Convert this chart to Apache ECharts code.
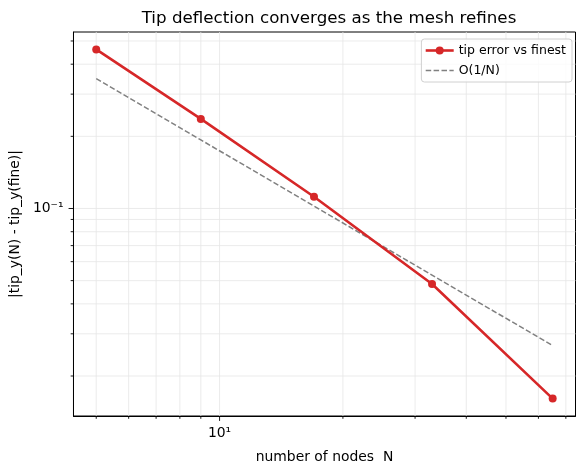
<!DOCTYPE html>
<html>
<head>
    <meta charset="utf-8">
    <script src="https://cdn.jsdelivr.net/npm/echarts@6/dist/echarts.min.js"></script>
    <style>
        html, body { margin: 0; padding: 0; background: #fff; }
        #container { width: 586px; height: 475px; }
    </style>
</head>
<body>
<div id="container"></div>
<script>
    // data
    let nodes = [5, 9, 17, 33, 65];
    let tipError = [0.461, 0.2365, 0.1119, 0.0484, 0.0161];
    let refLine = [0.348, 0.1933, 0.1024, 0.0527, 0.0268];

    // tick values (log axes)
    let xMajorTicks = [10];
    let xMinorTicks = [5, 6, 7, 8, 9, 20, 30, 40, 50, 60, 70];
    let yMajorTicks = [0.1];
    let yMinorTicks = [0.02, 0.03, 0.04, 0.05, 0.06, 0.07, 0.08, 0.09, 0.2, 0.3, 0.4, 0.5];

    let xMin = 4.40, xMax = 73.9;
    let yMin = 0.01362, yMax = 0.545;

    const FONT = 'DejaVu Sans';
    const GRID_COLOR = '#e6e6e6';

    function sup(n) {
        const m = {'-': '⁻', '0': '⁰', '1': '¹', '2': '²', '3': '³', '4': '⁴', '5': '⁵', '6': '⁶', '7': '⁷', '8': '⁸', '9': '⁹'};
        return String(n).split('').map(c => m[c]).join('');
    }
    function powLabel(value) {
        let e = Math.log10(value);
        if (Math.abs(e - Math.round(e)) > 1e-6) return '';
        return '10' + sup(Math.round(e));
    }

    // grid lines + tick marks, drawn at data values through the axes
    function tickRender(axis) {
        return function (params, api) {
            let cs = params.coordSys;
            let major = api.value(2) === 1;
            let len = major ? 4.9 : 2.8;
            let children = [];
            if (axis === 'x') {
                let x = api.coord([api.value(0), yMax])[0];
                let yb = cs.y + cs.height;
                children.push({type: 'line', shape: {x1: x, y1: cs.y, x2: x, y2: yb},
                    style: {stroke: GRID_COLOR, lineWidth: 0.8}});
                children.push({type: 'line', shape: {x1: x, y1: yb, x2: x, y2: yb + len},
                    style: {stroke: '#000', lineWidth: 0.9}});
            } else {
                let y = api.coord([xMin, api.value(1)])[1];
                children.push({type: 'line', shape: {x1: cs.x, y1: y, x2: cs.x + cs.width, y2: y},
                    style: {stroke: GRID_COLOR, lineWidth: 0.8}});
                children.push({type: 'line', shape: {x1: cs.x - len, y1: y, x2: cs.x, y2: y},
                    style: {stroke: '#000', lineWidth: 0.9}});
            }
            return {type: 'group', children: children};
        };
    }

    let xTickData = xMajorTicks.map(v => [v, yMax, 1]).concat(xMinorTicks.map(v => [v, yMax, 0]));
    let yTickData = yMajorTicks.map(v => [xMin, v, 1]).concat(yMinorTicks.map(v => [xMin, v, 0]));

    let dom = document.getElementById('container');
    let myChart = echarts.init(dom, null, {renderer: 'canvas'});
    let option = {
        animation: false,
        backgroundColor: '#fff',
        title: {
            text: 'Tip deflection converges as the mesh refines',
            left: 324,
            top: 5,
            textAlign: 'center',
            textStyle: {fontFamily: FONT, fontSize: 16.7, fontWeight: 'normal', color: '#000'}
        },
        grid: {
            left: 73, right: 10.5, top: 32, bottom: 59,
            show: true, borderColor: '#000', borderWidth: 1,
            containLabel: false
        },
        legend: {
            orient: 'vertical',
            right: 14,
            top: 39,
            data: [
                {name: 'tip error vs finest', lineStyle: {width: 2.6}},
                {name: 'O(1/N)', itemStyle: {opacity: 0}, lineStyle: {width: 1.5}}
            ],
            itemWidth: 28,
            itemHeight: 10,
            itemGap: 7,
            padding: [5, 6, 5, 3],
            backgroundColor: 'rgba(255,255,255,0.8)',
            borderColor: '#d0d0d0',
            borderWidth: 1,
            borderRadius: 3,
            textStyle: {fontFamily: FONT, fontSize: 12.5, color: '#000'}
        },
        xAxis: {
            type: 'log',
            logBase: 10,
            min: xMin,
            max: xMax,
            name: 'number of nodes  N',
            nameLocation: 'middle',
            nameGap: 34,
            nameTextStyle: {fontFamily: FONT, fontSize: 13.9, color: '#000'},
            axisLine: {show: true, lineStyle: {color: '#000', width: 1}},
            axisTick: {show: false},
            splitLine: {show: false},
            minorTick: {show: false},
            axisLabel: {
                margin: 10,
                fontFamily: FONT, fontSize: 13.9, color: '#000',
                formatter: powLabel
            }
        },
        yAxis: {
            type: 'log',
            logBase: 10,
            min: yMin,
            max: yMax,
            name: '|tip_y(N) - tip_y(fine)|',
            nameLocation: 'middle',
            nameGap: 43,
            nameTextStyle: {fontFamily: FONT, fontSize: 13.9, color: '#000'},
            axisLine: {show: true, lineStyle: {color: '#000', width: 1}},
            axisTick: {show: false},
            splitLine: {show: false},
            minorTick: {show: false},
            axisLabel: {
                margin: 10,
                fontFamily: FONT, fontSize: 13.9, color: '#000',
                formatter: powLabel
            }
        },
        series: [
            {
                name: 'xticks',
                type: 'custom',
                renderItem: tickRender('x'),
                data: xTickData,
                clip: false,
                silent: true,
                z: 0
            },
            {
                name: 'yticks',
                type: 'custom',
                renderItem: tickRender('y'),
                data: yTickData,
                clip: false,
                silent: true,
                z: 0
            },
            {
                name: 'tip error vs finest',
                type: 'line',
                data: nodes.map((n, i) => [n, tipError[i]]),
                symbol: 'circle',
                symbolSize: 8,
                showSymbol: true,
                color: '#d62728',
                lineStyle: {color: '#d62728', width: 2.6},
                itemStyle: {color: '#d62728'},
                z: 3
            },
            {
                name: 'O(1/N)',
                type: 'line',
                data: nodes.map((n, i) => [n, refLine[i]]),
                symbol: 'none',
                color: 'gray',
                lineStyle: {color: 'gray', width: 1.5, type: [5.5, 2.4]},
                z: 2
            }
        ]
    };
    myChart.setOption(option);
</script>
</body>
</html>
